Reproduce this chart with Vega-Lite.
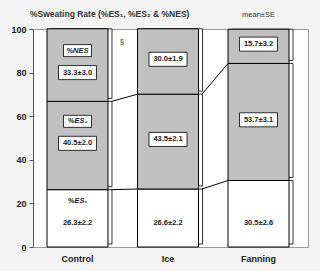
{
  "$schema": "https://vega.github.io/schema/vega-lite/v6.json",
  "width": 275,
  "height": 218,
  "autosize": {"type": "none"},
  "padding": {"left": 33, "top": 29, "right": 12, "bottom": 24},
  "background": "#f3f3f3",
  "config": {
    "font": "Liberation Sans",
    "view": {"fill": "#ffffff", "stroke": "#9a9a9a", "strokeWidth": 1}
  },
  "title": {
    "text": "%Sweating Rate (%ES₁, %ES₂ & %NES)",
    "anchor": "start",
    "frame": "group",
    "fontSize": 8.5,
    "fontWeight": "bold",
    "color": "#333333",
    "offset": -7,
    "dx": -3
  },
  "datasets": {
    "sr": [
      {"group": "Control", "component": "ES1", "name": "%ES₁", "value": 26.3, "label": "26.3±2.2"},
      {"group": "Control", "component": "ES2", "name": "%ES₂", "value": 40.5, "label": "40.5±2.0"},
      {"group": "Control", "component": "NES", "name": "%NES", "value": 33.3, "label": "33.3±3.0"},
      {"group": "Ice", "component": "ES1", "name": "%ES₁", "value": 26.6, "label": "26.6±2.2"},
      {"group": "Ice", "component": "ES2", "name": "%ES₂", "value": 43.5, "label": "43.5±2.1"},
      {"group": "Ice", "component": "NES", "name": "%NES", "value": 30.0, "label": "30.0±1.9"},
      {"group": "Fanning", "component": "ES1", "name": "%ES₁", "value": 30.5, "label": "30.5±2.6"},
      {"group": "Fanning", "component": "ES2", "name": "%ES₂", "value": 53.7, "label": "53.7±3.1"},
      {"group": "Fanning", "component": "NES", "name": "%NES", "value": 15.7, "label": "15.7±3.2"}
    ],
    "links": [
      {"from": "Control", "to": "Ice", "a": 26.3, "b": 26.6},
      {"from": "Control", "to": "Ice", "a": 66.8, "b": 70.1},
      {"from": "Ice", "to": "Fanning", "a": 26.6, "b": 30.5},
      {"from": "Ice", "to": "Fanning", "a": 70.1, "b": 84.2}
    ],
    "notes": [
      {"group": "Fanning", "level": 100, "text": "mean±SE"}
    ],
    "marks": [
      {"group": "Ice", "level": 94, "text": "§"}
    ]
  },
  "layer": [
    {
      "data": {"name": "sr"},
      "transform": [
        {"stack": "value", "groupby": ["group"], "sort": [{"field": "component", "order": "ascending"}], "as": ["lo", "hi"]}
      ],
      "mark": {"type": "bar", "xOffset": 4, "yOffset": -3, "fill": "#ffffff", "stroke": "#000000", "strokeWidth": 0.8},
      "encoding": {
        "x": {
          "field": "group", "type": "nominal",
          "scale": {"domain": ["Control", "Ice", "Fanning"], "range": [14, 256], "paddingInner": 0.326, "paddingOuter": 0},
          "axis": {"title": null, "domain": false, "ticks": false, "labelAngle": 0, "labelFontSize": 9, "labelFontWeight": "bold", "labelColor": "#222222", "labelPadding": 7}
        },
        "y": {
          "field": "lo", "type": "quantitative",
          "scale": {"domain": [0, 100], "nice": false},
          "axis": {"title": null, "values": [0, 20, 40, 60, 80, 100], "grid": false, "domainColor": "#555555", "tickColor": "#555555", "tickSize": 4, "labelFontSize": 9, "labelFontWeight": "bold", "labelColor": "#222222", "labelPadding": 3}
        },
        "y2": {"field": "hi"}
      }
    },
    {
      "data": {"name": "sr"},
      "transform": [
        {"stack": "value", "groupby": ["group"], "sort": [{"field": "component", "order": "ascending"}], "as": ["lo", "hi"]}
      ],
      "mark": {"type": "bar", "stroke": "#000000", "strokeWidth": 1},
      "encoding": {
        "x": {"field": "group", "type": "nominal"},
        "y": {"field": "lo", "type": "quantitative"},
        "y2": {"field": "hi"},
        "fill": {
          "field": "component", "type": "nominal",
          "scale": {"domain": ["ES1", "ES2", "NES"], "range": ["#ffffff", "#c0c0c0", "#c0c0c0"]},
          "legend": null
        }
      }
    },
    {
      "data": {"name": "links"},
      "mark": {"type": "rule", "stroke": "#000000", "strokeWidth": 1, "xOffset": 34, "x2Offset": -30.5},
      "encoding": {
        "x": {"field": "from", "type": "nominal"},
        "x2": {"field": "to"},
        "y": {"field": "a", "type": "quantitative"},
        "y2": {"field": "b"}
      }
    },
    {
      "data": {"name": "sr"},
      "transform": [
        {"stack": "value", "groupby": ["group"], "sort": [{"field": "component", "order": "ascending"}], "as": ["lo", "hi"]},
        {"calculate": "datum.component == 'ES1' ? 11 : (datum.group == 'Control' && datum.component == 'NES') ? 80 : (datum.lo + datum.hi) / 2 + 1", "as": "ly"},
        {"filter": "datum.component != 'ES1'"}
      ],
      "mark": {"type": "point", "shape": "M-1,-0.37H1V0.37H-1Z", "size": 1444, "filled": true, "fill": "#ffffff", "stroke": "#000000", "strokeWidth": 0.8, "opacity": 1},
      "encoding": {
        "x": {"field": "group", "type": "nominal"},
        "y": {"field": "ly", "type": "quantitative"}
      }
    },
    {
      "data": {"name": "sr"},
      "transform": [
        {"stack": "value", "groupby": ["group"], "sort": [{"field": "component", "order": "ascending"}], "as": ["lo", "hi"]},
        {"calculate": "datum.component == 'ES1' ? 11 : (datum.group == 'Control' && datum.component == 'NES') ? 80 : (datum.lo + datum.hi) / 2 + 1", "as": "ly"},
        {"filter": "datum.group == 'Control' && datum.component != 'ES1'"}
      ],
      "mark": {"type": "point", "shape": "M-1,-0.43H1V0.43H-1Z", "size": 784, "filled": true, "fill": "#ffffff", "stroke": "#000000", "strokeWidth": 0.8, "opacity": 1, "yOffset": -22},
      "encoding": {
        "x": {"field": "group", "type": "nominal"},
        "y": {"field": "ly", "type": "quantitative"}
      }
    },
    {
      "data": {"name": "sr"},
      "transform": [
        {"stack": "value", "groupby": ["group"], "sort": [{"field": "component", "order": "ascending"}], "as": ["lo", "hi"]},
        {"calculate": "datum.component == 'ES1' ? 11 : (datum.group == 'Control' && datum.component == 'NES') ? 80 : (datum.lo + datum.hi) / 2 + 1", "as": "ly"}
      ],
      "mark": {"type": "text", "fontSize": 7.5, "fontWeight": "bold", "color": "#222222", "baseline": "middle"},
      "encoding": {
        "x": {"field": "group", "type": "nominal"},
        "y": {"field": "ly", "type": "quantitative"},
        "text": {"field": "label"}
      }
    },
    {
      "data": {"name": "sr"},
      "transform": [
        {"stack": "value", "groupby": ["group"], "sort": [{"field": "component", "order": "ascending"}], "as": ["lo", "hi"]},
        {"calculate": "datum.component == 'ES1' ? 11 : (datum.group == 'Control' && datum.component == 'NES') ? 80 : (datum.lo + datum.hi) / 2 + 1", "as": "ly"},
        {"filter": "datum.group == 'Control'"}
      ],
      "mark": {"type": "text", "fontSize": 7.5, "fontWeight": "bold", "fontStyle": "italic", "color": "#222222", "baseline": "middle", "yOffset": -22},
      "encoding": {
        "x": {"field": "group", "type": "nominal"},
        "y": {"field": "ly", "type": "quantitative"},
        "text": {"field": "name"}
      }
    },
    {
      "data": {"name": "notes"},
      "mark": {"type": "text", "fontSize": 7.5, "color": "#333333", "baseline": "middle", "yOffset": -14},
      "encoding": {
        "x": {"field": "group", "type": "nominal"},
        "y": {"field": "level", "type": "quantitative"},
        "text": {"field": "text"}
      }
    },
    {
      "data": {"name": "marks"},
      "mark": {"type": "text", "fontSize": 8, "color": "#333333", "baseline": "middle", "xOffset": -46},
      "encoding": {
        "x": {"field": "group", "type": "nominal"},
        "y": {"field": "level", "type": "quantitative"},
        "text": {"field": "text"}
      }
    }
  ]
}
